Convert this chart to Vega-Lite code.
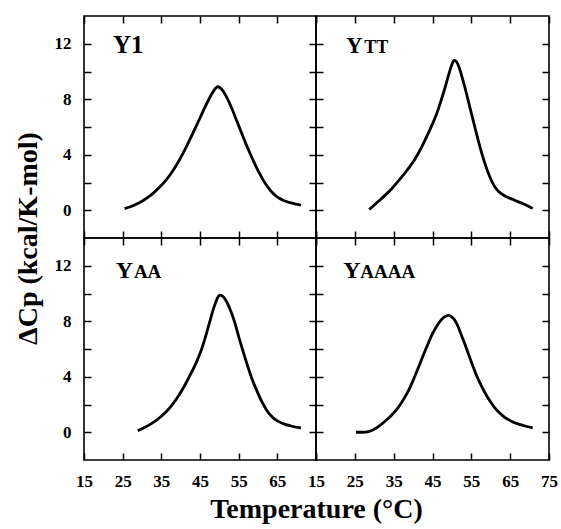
{
  "$schema": "https://vega.github.io/schema/vega-lite/v6.json",
  "autosize": {"type": "pad"},
  "padding": {"left": 13, "top": 14, "right": 5, "bottom": 5},
  "background": "white",
  "datasets": {
    "curves": [
      {"panel": "Y1", "T": 25.5, "Cp": 0.12},
      {"panel": "Y1", "T": 27, "Cp": 0.25},
      {"panel": "Y1", "T": 28.5, "Cp": 0.43},
      {"panel": "Y1", "T": 30, "Cp": 0.65},
      {"panel": "Y1", "T": 31.5, "Cp": 0.92},
      {"panel": "Y1", "T": 33, "Cp": 1.25},
      {"panel": "Y1", "T": 34.5, "Cp": 1.65},
      {"panel": "Y1", "T": 36, "Cp": 2.1},
      {"panel": "Y1", "T": 37.5, "Cp": 2.65},
      {"panel": "Y1", "T": 39, "Cp": 3.3},
      {"panel": "Y1", "T": 40.5, "Cp": 4.05},
      {"panel": "Y1", "T": 42, "Cp": 4.87},
      {"panel": "Y1", "T": 43.5, "Cp": 5.75},
      {"panel": "Y1", "T": 45, "Cp": 6.65},
      {"panel": "Y1", "T": 46.2, "Cp": 7.38},
      {"panel": "Y1", "T": 47.3, "Cp": 8.0},
      {"panel": "Y1", "T": 48.3, "Cp": 8.5},
      {"panel": "Y1", "T": 49, "Cp": 8.78},
      {"panel": "Y1", "T": 49.6, "Cp": 8.9},
      {"panel": "Y1", "T": 50.5, "Cp": 8.75},
      {"panel": "Y1", "T": 51.5, "Cp": 8.35},
      {"panel": "Y1", "T": 52.5, "Cp": 7.8},
      {"panel": "Y1", "T": 53.5, "Cp": 7.15},
      {"panel": "Y1", "T": 54.5, "Cp": 6.45},
      {"panel": "Y1", "T": 55.5, "Cp": 5.75},
      {"panel": "Y1", "T": 56.5, "Cp": 5.05},
      {"panel": "Y1", "T": 57.5, "Cp": 4.38},
      {"panel": "Y1", "T": 58.5, "Cp": 3.75},
      {"panel": "Y1", "T": 59.5, "Cp": 3.15},
      {"panel": "Y1", "T": 60.5, "Cp": 2.6},
      {"panel": "Y1", "T": 61.5, "Cp": 2.1},
      {"panel": "Y1", "T": 62.5, "Cp": 1.68},
      {"panel": "Y1", "T": 63.5, "Cp": 1.33},
      {"panel": "Y1", "T": 64.5, "Cp": 1.06},
      {"panel": "Y1", "T": 65.5, "Cp": 0.86},
      {"panel": "Y1", "T": 66.5, "Cp": 0.72},
      {"panel": "Y1", "T": 68, "Cp": 0.57},
      {"panel": "Y1", "T": 69.5, "Cp": 0.46},
      {"panel": "Y1", "T": 71.1, "Cp": 0.36},

      {"panel": "YTT", "T": 28.7, "Cp": 0.05},
      {"panel": "YTT", "T": 30.5, "Cp": 0.5},
      {"panel": "YTT", "T": 32.5, "Cp": 1.0},
      {"panel": "YTT", "T": 34.5, "Cp": 1.55},
      {"panel": "YTT", "T": 36.5, "Cp": 2.2},
      {"panel": "YTT", "T": 38.5, "Cp": 2.9},
      {"panel": "YTT", "T": 40.5, "Cp": 3.7},
      {"panel": "YTT", "T": 42.1, "Cp": 4.5},
      {"panel": "YTT", "T": 43.5, "Cp": 5.3},
      {"panel": "YTT", "T": 44.8, "Cp": 6.1},
      {"panel": "YTT", "T": 46, "Cp": 6.9},
      {"panel": "YTT", "T": 47.2, "Cp": 7.9},
      {"panel": "YTT", "T": 48.3, "Cp": 8.9},
      {"panel": "YTT", "T": 49.2, "Cp": 9.8},
      {"panel": "YTT", "T": 50, "Cp": 10.5},
      {"panel": "YTT", "T": 50.6, "Cp": 10.8},
      {"panel": "YTT", "T": 51.2, "Cp": 10.7},
      {"panel": "YTT", "T": 51.8, "Cp": 10.35},
      {"panel": "YTT", "T": 52.5, "Cp": 9.7},
      {"panel": "YTT", "T": 53.3, "Cp": 8.9},
      {"panel": "YTT", "T": 54.2, "Cp": 7.9},
      {"panel": "YTT", "T": 55, "Cp": 7.0},
      {"panel": "YTT", "T": 55.9, "Cp": 6.0},
      {"panel": "YTT", "T": 56.8, "Cp": 5.0},
      {"panel": "YTT", "T": 57.7, "Cp": 4.1},
      {"panel": "YTT", "T": 58.7, "Cp": 3.2},
      {"panel": "YTT", "T": 59.7, "Cp": 2.45},
      {"panel": "YTT", "T": 60.7, "Cp": 1.85},
      {"panel": "YTT", "T": 61.7, "Cp": 1.45},
      {"panel": "YTT", "T": 62.7, "Cp": 1.2},
      {"panel": "YTT", "T": 64, "Cp": 0.98},
      {"panel": "YTT", "T": 65.5, "Cp": 0.8},
      {"panel": "YTT", "T": 67, "Cp": 0.62},
      {"panel": "YTT", "T": 68.5, "Cp": 0.45},
      {"panel": "YTT", "T": 70.8, "Cp": 0.12},

      {"panel": "YAA", "T": 28.9, "Cp": 0.1},
      {"panel": "YAA", "T": 30.5, "Cp": 0.32},
      {"panel": "YAA", "T": 32, "Cp": 0.55},
      {"panel": "YAA", "T": 33.5, "Cp": 0.82},
      {"panel": "YAA", "T": 35, "Cp": 1.15},
      {"panel": "YAA", "T": 36.5, "Cp": 1.55},
      {"panel": "YAA", "T": 38, "Cp": 2.05},
      {"panel": "YAA", "T": 39.5, "Cp": 2.65},
      {"panel": "YAA", "T": 41, "Cp": 3.35},
      {"panel": "YAA", "T": 42.5, "Cp": 4.15},
      {"panel": "YAA", "T": 44, "Cp": 5.0},
      {"panel": "YAA", "T": 45.3, "Cp": 5.9},
      {"panel": "YAA", "T": 46.5, "Cp": 6.95},
      {"panel": "YAA", "T": 47.6, "Cp": 8.05},
      {"panel": "YAA", "T": 48.6, "Cp": 9.0},
      {"panel": "YAA", "T": 49.4, "Cp": 9.6},
      {"panel": "YAA", "T": 50.1, "Cp": 9.88},
      {"panel": "YAA", "T": 50.9, "Cp": 9.8},
      {"panel": "YAA", "T": 52, "Cp": 9.35},
      {"panel": "YAA", "T": 53, "Cp": 8.7},
      {"panel": "YAA", "T": 54, "Cp": 7.9},
      {"panel": "YAA", "T": 55, "Cp": 6.9},
      {"panel": "YAA", "T": 56, "Cp": 5.95},
      {"panel": "YAA", "T": 57, "Cp": 5.05},
      {"panel": "YAA", "T": 58, "Cp": 4.2},
      {"panel": "YAA", "T": 59, "Cp": 3.45},
      {"panel": "YAA", "T": 60, "Cp": 2.8},
      {"panel": "YAA", "T": 61, "Cp": 2.2},
      {"panel": "YAA", "T": 62, "Cp": 1.7},
      {"panel": "YAA", "T": 63, "Cp": 1.3},
      {"panel": "YAA", "T": 64, "Cp": 1.02},
      {"panel": "YAA", "T": 65, "Cp": 0.82},
      {"panel": "YAA", "T": 66.5, "Cp": 0.62},
      {"panel": "YAA", "T": 68.5, "Cp": 0.45},
      {"panel": "YAA", "T": 71.1, "Cp": 0.31},

      {"panel": "YAAAA", "T": 25.3, "Cp": 0.0},
      {"panel": "YAAAA", "T": 27, "Cp": 0.0},
      {"panel": "YAAAA", "T": 28.5, "Cp": 0.05},
      {"panel": "YAAAA", "T": 30, "Cp": 0.22},
      {"panel": "YAAAA", "T": 31.5, "Cp": 0.5},
      {"panel": "YAAAA", "T": 33, "Cp": 0.85},
      {"panel": "YAAAA", "T": 34.5, "Cp": 1.25},
      {"panel": "YAAAA", "T": 36, "Cp": 1.72},
      {"panel": "YAAAA", "T": 37.5, "Cp": 2.35},
      {"panel": "YAAAA", "T": 39, "Cp": 3.1},
      {"panel": "YAAAA", "T": 40.3, "Cp": 3.93},
      {"panel": "YAAAA", "T": 41.5, "Cp": 4.75},
      {"panel": "YAAAA", "T": 42.7, "Cp": 5.6},
      {"panel": "YAAAA", "T": 43.8, "Cp": 6.34},
      {"panel": "YAAAA", "T": 45, "Cp": 7.1},
      {"panel": "YAAAA", "T": 46.2, "Cp": 7.7},
      {"panel": "YAAAA", "T": 47.4, "Cp": 8.15},
      {"panel": "YAAAA", "T": 48.5, "Cp": 8.38},
      {"panel": "YAAAA", "T": 49.2, "Cp": 8.42},
      {"panel": "YAAAA", "T": 50, "Cp": 8.3},
      {"panel": "YAAAA", "T": 50.8, "Cp": 8.05},
      {"panel": "YAAAA", "T": 51.6, "Cp": 7.6},
      {"panel": "YAAAA", "T": 52.5, "Cp": 6.95},
      {"panel": "YAAAA", "T": 53.4, "Cp": 6.3},
      {"panel": "YAAAA", "T": 54.3, "Cp": 5.6},
      {"panel": "YAAAA", "T": 55.3, "Cp": 4.85},
      {"panel": "YAAAA", "T": 56.4, "Cp": 4.05},
      {"panel": "YAAAA", "T": 57.5, "Cp": 3.4},
      {"panel": "YAAAA", "T": 58.6, "Cp": 2.8},
      {"panel": "YAAAA", "T": 59.8, "Cp": 2.25},
      {"panel": "YAAAA", "T": 61, "Cp": 1.78},
      {"panel": "YAAAA", "T": 62.3, "Cp": 1.38},
      {"panel": "YAAAA", "T": 63.7, "Cp": 1.05},
      {"panel": "YAAAA", "T": 65.3, "Cp": 0.8},
      {"panel": "YAAAA", "T": 67, "Cp": 0.6},
      {"panel": "YAAAA", "T": 68.8, "Cp": 0.45},
      {"panel": "YAAAA", "T": 70.8, "Cp": 0.31}
    ]
  },
  "columns": 2,
  "spacing": 0,
  "bounds": "flush",
  "concat": [
    {
      "width": 232, "height": 222,
      "layer": [
        {
          "data": {"name": "curves"},
          "transform": [{"filter": "datum.panel === 'Y1'"}],
          "mark": {"type": "line", "color": "black", "strokeWidth": 2.8, "interpolate": "monotone"},
          "encoding": {
            "x": {"field": "T", "type": "quantitative", "scale": {"domain": [15, 75], "nice": false, "zero": false},
                  "axis": {"orient": "bottom", "values": [15, 25, 35, 45, 55, 65, 75], "labels": false, "title": null, "tickColor": "black", "tickSize": -7, "tickWidth": 1.5}},
            "y": {"field": "Cp", "type": "quantitative", "scale": {"domain": [-2, 14], "nice": false, "zero": false},
                  "axis": {"orient": "left", "values": [0, 2, 4, 6, 8, 10, 12], "labelExpr": "datum.value % 4 == 0 ? datum.label : ''",
                           "title": "ΔCp (kcal/K-mol)", "titleY": 222, "titlePadding": 12, "tickColor": "black", "tickSize": -7, "tickWidth": 1.5, "labelPadding": 20}}
          }
        },
        {
          "data": {"name": "curves"},
          "transform": [{"filter": "datum.panel === 'Y1'"}],
          "mark": {"type": "line", "opacity": 0},
          "encoding": {
            "x": {"field": "T", "type": "quantitative", "axis": {"orient": "top", "values": [15, 25, 35, 45, 55, 65, 75], "labels": false, "title": null, "tickColor": "black", "tickSize": -7, "tickWidth": 1.5}},
            "y": {"field": "Cp", "type": "quantitative", "axis": {"orient": "right", "values": [0, 2, 4, 6, 8, 10, 12], "labels": false, "title": null, "tickColor": "black", "tickSize": -7, "tickWidth": 1.5}}
          }
        },
        {
          "data": {"values": [{}]},
          "mark": {"type": "text", "text": "Y1", "font": "Liberation Serif", "fontWeight": "bold", "fontSize": 25, "align": "left", "baseline": "alphabetic", "color": "black"},
          "encoding": {"x": {"datum": 22.5, "type": "quantitative", "axis": null}, "y": {"datum": 11.35, "type": "quantitative", "axis": null}}
        }
      ],
      "resolve": {"axis": {"x": "independent", "y": "independent"}}
    },
    {
      "width": 233, "height": 222,
      "layer": [
        {
          "data": {"name": "curves"},
          "transform": [{"filter": "datum.panel === 'YTT'"}],
          "mark": {"type": "line", "color": "black", "strokeWidth": 2.8, "interpolate": "monotone"},
          "encoding": {
            "x": {"field": "T", "type": "quantitative", "scale": {"domain": [15, 75], "nice": false, "zero": false},
                  "axis": {"orient": "bottom", "values": [15, 25, 35, 45, 55, 65, 75], "labels": false, "title": null, "tickColor": "black", "tickSize": -7, "tickWidth": 1.5}},
            "y": {"field": "Cp", "type": "quantitative", "scale": {"domain": [-2, 14], "nice": false, "zero": false},
                  "axis": {"orient": "left", "values": [0, 2, 4, 6, 8, 10, 12], "labels": false, "title": null, "tickColor": "black", "tickSize": -7, "tickWidth": 1.5}}
          }
        },
        {
          "data": {"name": "curves"},
          "transform": [{"filter": "datum.panel === 'YTT'"}],
          "mark": {"type": "line", "opacity": 0},
          "encoding": {
            "x": {"field": "T", "type": "quantitative", "axis": {"orient": "top", "values": [15, 25, 35, 45, 55, 65, 75], "labels": false, "title": null, "tickColor": "black", "tickSize": -7, "tickWidth": 1.5}},
            "y": {"field": "Cp", "type": "quantitative", "axis": {"orient": "right", "values": [0, 2, 4, 6, 8, 10, 12], "labels": false, "title": null, "tickColor": "black", "tickSize": -7, "tickWidth": 1.5}}
          }
        },
        {
          "data": {"values": [{}]},
          "mark": {"type": "text", "text": "Y", "font": "Liberation Serif", "fontWeight": "bold", "fontSize": 23, "align": "left", "baseline": "alphabetic", "color": "black"},
          "encoding": {"x": {"datum": 22.7, "type": "quantitative", "axis": null}, "y": {"datum": 11.3, "type": "quantitative", "axis": null}}
        },
        {
          "data": {"values": [{}]},
          "mark": {"type": "text", "text": "TT", "font": "Liberation Serif", "fontWeight": "bold", "fontSize": 18, "align": "left", "baseline": "alphabetic", "color": "black"},
          "encoding": {"x": {"datum": 27.4, "type": "quantitative", "axis": null}, "y": {"datum": 11.3, "type": "quantitative", "axis": null}}
        }
      ],
      "resolve": {"axis": {"x": "independent", "y": "independent"}}
    },
    {
      "width": 232, "height": 222,
      "layer": [
        {
          "data": {"name": "curves"},
          "transform": [{"filter": "datum.panel === 'YAA'"}],
          "mark": {"type": "line", "color": "black", "strokeWidth": 2.8, "interpolate": "monotone"},
          "encoding": {
            "x": {"field": "T", "type": "quantitative", "scale": {"domain": [15, 75], "nice": false, "zero": false},
                  "axis": {"orient": "bottom", "values": [15, 25, 35, 45, 55, 65, 75], "labelExpr": "datum.value == 75 ? '' : datum.label",
                           "title": "Temperature (°C)", "titleX": 232, "titlePadding": 6, "tickColor": "black", "tickSize": -7, "tickWidth": 1.5, "labelPadding": 20}},
            "y": {"field": "Cp", "type": "quantitative", "scale": {"domain": [-2, 14], "nice": false, "zero": false},
                  "axis": {"orient": "left", "values": [0, 2, 4, 6, 8, 10, 12], "labelExpr": "datum.value % 4 == 0 ? datum.label : ''", "title": null, "tickColor": "black", "tickSize": -7, "tickWidth": 1.5, "labelPadding": 20}}
          }
        },
        {
          "data": {"name": "curves"},
          "transform": [{"filter": "datum.panel === 'YAA'"}],
          "mark": {"type": "line", "opacity": 0},
          "encoding": {
            "x": {"field": "T", "type": "quantitative", "axis": {"orient": "top", "values": [15, 25, 35, 45, 55, 65, 75], "labels": false, "title": null, "tickColor": "black", "tickSize": -7, "tickWidth": 1.5}},
            "y": {"field": "Cp", "type": "quantitative", "axis": {"orient": "right", "values": [0, 2, 4, 6, 8, 10, 12], "labels": false, "title": null, "tickColor": "black", "tickSize": -7, "tickWidth": 1.5}}
          }
        },
        {
          "data": {"values": [{}]},
          "mark": {"type": "text", "text": "Y", "font": "Liberation Serif", "fontWeight": "bold", "fontSize": 24, "align": "left", "baseline": "alphabetic", "color": "black"},
          "encoding": {"x": {"datum": 23.2, "type": "quantitative", "axis": null}, "y": {"datum": 11.13, "type": "quantitative", "axis": null}}
        },
        {
          "data": {"values": [{}]},
          "mark": {"type": "text", "text": "AA", "font": "Liberation Serif", "fontWeight": "bold", "fontSize": 19, "align": "left", "baseline": "alphabetic", "color": "black"},
          "encoding": {"x": {"datum": 27.9, "type": "quantitative", "axis": null}, "y": {"datum": 11.13, "type": "quantitative", "axis": null}}
        }
      ],
      "resolve": {"axis": {"x": "independent", "y": "independent"}}
    },
    {
      "width": 233, "height": 222,
      "layer": [
        {
          "data": {"name": "curves"},
          "transform": [{"filter": "datum.panel === 'YAAAA'"}],
          "mark": {"type": "line", "color": "black", "strokeWidth": 2.8, "interpolate": "monotone"},
          "encoding": {
            "x": {"field": "T", "type": "quantitative", "scale": {"domain": [15, 75], "nice": false, "zero": false},
                  "axis": {"orient": "bottom", "values": [15, 25, 35, 45, 55, 65, 75], "title": null, "tickColor": "black", "tickSize": -7, "tickWidth": 1.5, "labelPadding": 20}},
            "y": {"field": "Cp", "type": "quantitative", "scale": {"domain": [-2, 14], "nice": false, "zero": false},
                  "axis": {"orient": "left", "values": [0, 2, 4, 6, 8, 10, 12], "labels": false, "title": null, "tickColor": "black", "tickSize": -7, "tickWidth": 1.5}}
          }
        },
        {
          "data": {"name": "curves"},
          "transform": [{"filter": "datum.panel === 'YAAAA'"}],
          "mark": {"type": "line", "opacity": 0},
          "encoding": {
            "x": {"field": "T", "type": "quantitative", "axis": {"orient": "top", "values": [15, 25, 35, 45, 55, 65, 75], "labels": false, "title": null, "tickColor": "black", "tickSize": -7, "tickWidth": 1.5}},
            "y": {"field": "Cp", "type": "quantitative", "axis": {"orient": "right", "values": [0, 2, 4, 6, 8, 10, 12], "labels": false, "title": null, "tickColor": "black", "tickSize": -7, "tickWidth": 1.5}}
          }
        },
        {
          "data": {"values": [{}]},
          "mark": {"type": "text", "text": "Y", "font": "Liberation Serif", "fontWeight": "bold", "fontSize": 24, "align": "left", "baseline": "alphabetic", "color": "black"},
          "encoding": {"x": {"datum": 22.0, "type": "quantitative", "axis": null}, "y": {"datum": 11.13, "type": "quantitative", "axis": null}}
        },
        {
          "data": {"values": [{}]},
          "mark": {"type": "text", "text": "AAAA", "font": "Liberation Serif", "fontWeight": "bold", "fontSize": 19, "align": "left", "baseline": "alphabetic", "color": "black"},
          "encoding": {"x": {"datum": 26.4, "type": "quantitative", "axis": null}, "y": {"datum": 11.13, "type": "quantitative", "axis": null}}
        }
      ],
      "resolve": {"axis": {"x": "independent", "y": "independent"}}
    }
  ],
  "config": {
    "view": {"stroke": "black", "strokeWidth": 1.6},
    "axis": {
      "grid": false,
      "domain": false,
      "labelFont": "Liberation Serif", "labelFontWeight": "bold", "labelFontSize": 17, "labelColor": "black",
      "labelFlush": false, "labelOverlap": false, "labelBound": false,
      "titleFont": "Liberation Serif", "titleFontWeight": "bold", "titleFontSize": 28, "titleColor": "black"
    }
  }
}
